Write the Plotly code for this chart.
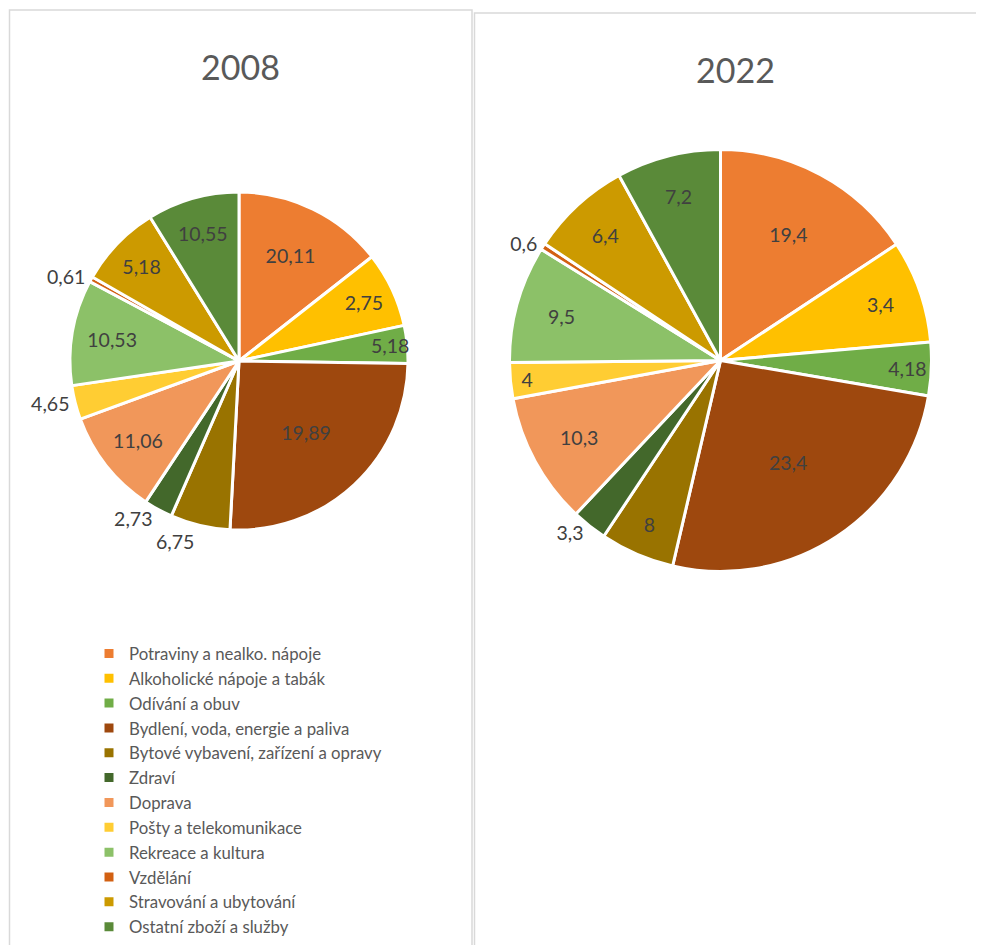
"""Struktura výdajů domácností 2008 vs 2022 - two Excel-style pie charts."""

import plotly.graph_objects as go

categories = [
    "Potraviny a nealko. nápoje",
    "Alkoholické nápoje a tabák",
    "Odívání a obuv",
    "Bydlení, voda, energie a paliva",
    "Bytové vybavení, zařízení a opravy",
    "Zdraví",
    "Doprava",
    "Pošty a telekomunikace",
    "Rekreace a kultura",
    "Vzdělání",
    "Stravování a ubytování",
    "Ostatní zboží a služby",
]

# printed data labels
labels_2008 = ["20,11", "2,75", "5,18", "19,89", "6,75", "2,73",
               "11,06", "4,65", "10,53", "0,61", "5,18", "10,55"]
labels_2022 = ["19,4", "3,4", "4,18", "23,4", "8", "3,3",
               "10,3", "4", "9,5", "0,6", "6,4", "7,2"]

# slice sizes as drawn in the chart
shares_2008 = [14.4, 7.2, 3.6, 25.6, 5.7, 2.75, 10.1, 3.25, 10.1, 0.5, 7.9, 8.8]
shares_2022 = [15.75, 7.9, 4.1, 26.0, 5.7, 2.7, 10.1, 2.75, 9.0, 0.5, 7.7, 8.0]

colors = [
    "#ED7D31", "#FFC000", "#70AD47", "#9E480E", "#997300", "#43682B",
    "#F1975A", "#FFCD33", "#8CC168", "#D26012", "#CC9A00", "#5A8A39",
]

FONT = "Lato, 'Open Sans', sans-serif"
W, H = 984, 945
PAGE_MARGIN = 8  # body margin of the html page
LABEL_SIZE = 19.5


def px(x):
    return (x - PAGE_MARGIN) / W


def py(y):
    return 1 - (y - PAGE_MARGIN) / H


outside_2008 = {"0,61", "4,65", "2,73", "6,75"}
outside_2022 = {"0,6", "3,3"}

fig = go.Figure()


def add_pie(shares, texts, outside, domain, legend):
    fig.add_trace(
        go.Pie(
            labels=categories,
            values=shares,
            text=texts,
            textinfo="text",
            textposition=["outside" if t in outside else "inside" for t in texts],
            insidetextorientation="horizontal",
            textfont={"family": FONT, "size": LABEL_SIZE, "color": "#404040"},
            sort=False,
            direction="clockwise",
            rotation=0,
            marker={"colors": colors, "line": {"color": "white", "width": 3}},
            domain=domain,
            legend=legend,
            hoverinfo="label+text",
        )
    )


add_pie(shares_2008, labels_2008, outside_2008,
        {"x": [px(70), px(408)], "y": [py(530), py(192)]}, "legend")
add_pie(shares_2022, labels_2022, outside_2022,
        {"x": [px(509.5), px(931.5)], "y": [py(571.5), py(149.5)]}, "legend2")

legend_style = {
    "font": {"family": FONT, "size": 16.8, "color": "#595959"},
    "xanchor": "left",
    "yanchor": "top",
    "bgcolor": "rgba(0,0,0,0)",
    "traceorder": "normal",
}

fig.update_layout(
    width=W,
    height=H,
    margin={"l": 0, "r": 0, "t": 0, "b": 0},
    paper_bgcolor="white",
    plot_bgcolor="white",
    showlegend=True,
    uniformtext={"minsize": LABEL_SIZE, "mode": "show"},
    legend={**legend_style, "x": px(89), "y": py(636)},
    legend2={**legend_style, "x": px(584), "y": py(636)},
    shapes=[
        {"type": "rect", "xref": "paper", "yref": "paper",
         "x0": px(9.5), "x1": px(472), "y0": -0.05, "y1": py(10),
         "line": {"color": "#D9D9D9", "width": 1.5}, "fillcolor": "rgba(0,0,0,0)"},
        {"type": "rect", "xref": "paper", "yref": "paper",
         "x0": px(474.5), "x1": 1.05, "y0": -0.05, "y1": py(13),
         "line": {"color": "#D9D9D9", "width": 1.5}, "fillcolor": "rgba(0,0,0,0)"},
    ],
    annotations=[
        {"text": "2008", "x": px(240), "y": py(67), "xref": "paper", "yref": "paper",
         "xanchor": "center", "yanchor": "middle", "showarrow": False,
         "font": {"family": FONT, "size": 34, "color": "#595959"}},
        {"text": "2022", "x": px(735), "y": py(70), "xref": "paper", "yref": "paper",
         "xanchor": "center", "yanchor": "middle", "showarrow": False,
         "font": {"family": FONT, "size": 34, "color": "#595959"}},
    ],
)

# Excel draws its outside labels without leader lines
fig.write_html(
    "out.html",
    post_script="document.querySelectorAll('path.textline').forEach(function(p){p.remove();});",
)
